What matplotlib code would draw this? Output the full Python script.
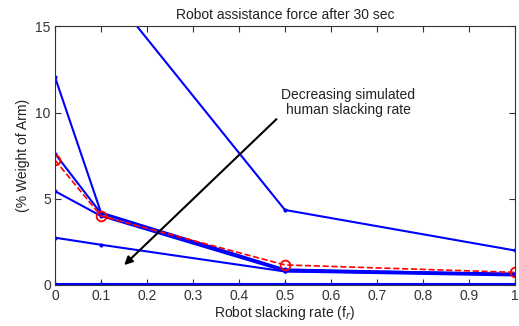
import matplotlib
matplotlib.use('Agg')
import matplotlib.pyplot as plt

plt.rcParams['font.family'] = ['Liberation Sans', 'DejaVu Sans']

# robot slacking rate f_r
fr = [0, 0.1, 0.5, 1.0]

# assistance force (% weight of arm), one curve per simulated human slacking rate
blue_curves = [
    [26.0, 17.6, 4.35, 2.0],
    [12.06, 4.2, 0.9, 0.62],
    [7.62, 4.15, 0.85, 0.66],
    [5.44, 4.0, 0.8, 0.6],
    [2.74, 2.33, 0.78, 0.55],
    [0.05, 0.05, 0.05, 0.05],
]
red_curve = [7.24, 4.0, 1.16, 0.73]

fig = plt.figure(figsize=(5.19, 3.26), dpi=100)
ax = fig.add_axes([0.106, 0.126, 0.886, 0.793])

for ys in blue_curves:
    ax.plot(fr, ys, color='#0000ff', lw=1.5, marker='.', ms=4)
ax.plot(fr, red_curve, color='#ff0000', lw=1.2, ls='--', marker='o', ms=7,
        mfc='none', mew=1.3)

ax.annotate('', xy=(0.146, 1.04), xytext=(0.486, 9.73),
            arrowprops=dict(arrowstyle='-|>', color='black', lw=1.5,
                            mutation_scale=12))
ax.text(0.638, 10.57, 'Decreasing simulated\nhuman slacking rate',
        ha='center', va='center', fontsize=10, linespacing=1.05,
        color='#222222')

ax.set_xlim(0, 1)
ax.set_ylim(0, 15)
ax.set_xticks([0, 0.1, 0.2, 0.3, 0.4, 0.5, 0.6, 0.7, 0.8, 0.9, 1])
ax.set_xticklabels(['0', '0.1', '0.2', '0.3', '0.4', '0.5', '0.6', '0.7', '0.8', '0.9', '1'])
ax.set_yticks([0, 5, 10, 15])
ax.tick_params(direction='in', top=True, right=True, labelsize=10, length=4,
               colors='#333333', labelcolor='#333333', pad=3)
for s in ax.spines.values():
    s.set_color('#333333')

ax.set_title('Robot assistance force after 30 sec', fontsize=10, pad=5,
             color='#222222')
ax.set_xlabel('Robot slacking rate (f$_r$)', fontsize=10, labelpad=1,
              color='#222222')
ax.set_ylabel('(% Weight of Arm)', fontsize=10, labelpad=4, color='#222222')

plt.savefig('out.png', dpi=100)
